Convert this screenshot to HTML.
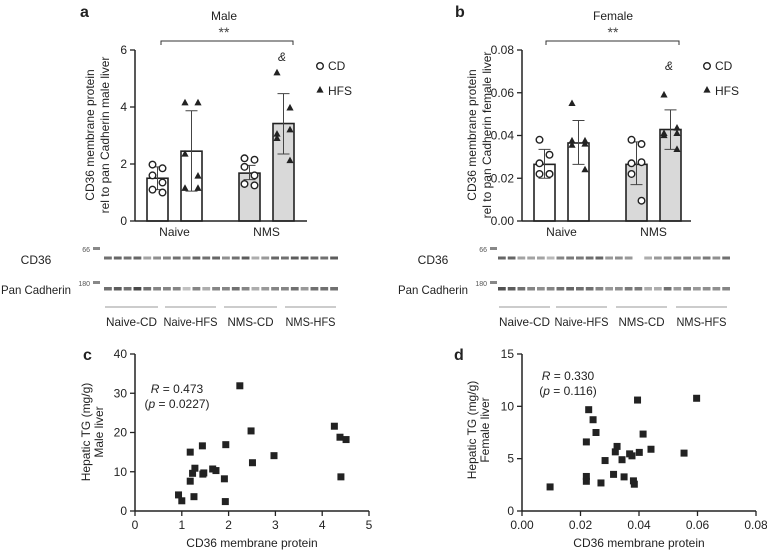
<!DOCTYPE html>
<html><head><meta charset="utf-8"><style>
body{margin:0;background:#fff;width:767px;height:553px;overflow:hidden}
svg{font-family:"Liberation Sans",Arial,sans-serif;fill:#222}
</style></head><body>
<svg id="fig" width="767" height="553" viewBox="0 0 767 553" xmlns="http://www.w3.org/2000/svg"></svg>
<script>
const NS='http://www.w3.org/2000/svg';
const svg=document.getElementById('fig');
// ---- data panel a (male)
const groupsAB=['Naive','NMS'];
const maleMeans=[1.5,2.45,1.68,3.42];
const maleErrLo=[1.1,1.05,1.45,2.35];
const maleErrHi=[1.9,3.87,1.95,4.47];
const malePtsNaiveCD=[1.98,1.85,1.6,1.35,1.1,1.0];
const malePtsNaiveHFS=[4.15,4.15,2.35,1.58,1.15,1.15];
const malePtsNmsCD=[2.2,2.15,1.9,1.6,1.3,1.25];
const malePtsNmsHFS=[5.2,3.97,3.05,3.2,2.9,2.12];
const maleTicks=[0,2,4,6];
// ---- data panel b (female)
const femMeans=[0.0265,0.0365,0.0265,0.0428];
const femErrLo=[0.02,0.0265,0.017,0.0335];
const femErrHi=[0.0335,0.047,0.037,0.052];
const femPtsNaiveCD=[0.038,0.031,0.027,0.022,0.022,0.022];
const femPtsNaiveHFS=[0.055,0.0375,0.0375,0.036,0.0355,0.024];
const femPtsNmsCD=[0.038,0.036,0.027,0.0275,0.022,0.0095];
const femPtsNmsHFS=[0.059,0.0435,0.041,0.041,0.04,0.0335];
const femTicks=['0.00','0.02','0.04','0.06','0.08'];
// ---- data panel c
const cX=[0.93,1.0,1.18,1.18,1.23,1.28,1.26,1.44,1.45,1.47,1.66,1.73,1.91,1.94,1.93,2.24,2.48,2.51,2.97,4.26,4.38,4.51,4.40];
const cY=[4.1,2.6,15.0,7.6,9.6,10.9,3.65,16.6,9.4,9.7,10.7,10.3,8.2,16.9,2.4,31.9,20.4,12.3,14.1,21.6,18.8,18.2,8.7];
const cXTicks=[0,1,2,3,4,5];
const cYTicks=[0,10,20,30,40];
// ---- data panel d
const dX=[0.0096,0.0228,0.0243,0.0253,0.022,0.022,0.022,0.027,0.0284,0.0313,0.0319,0.0325,0.0342,0.0349,0.0368,0.0376,0.0381,0.0384,0.0395,0.0401,0.0414,0.0441,0.0554,0.0597];
const dY=[2.3,9.68,8.72,7.5,6.6,3.3,2.84,2.68,4.82,3.5,5.65,6.17,4.9,3.26,5.46,5.27,2.88,2.56,10.6,5.6,7.35,5.9,5.53,10.77];
const dXTicks=['0.00','0.02','0.04','0.06','0.08'];
const dYTicks=[0,5,10,15];
// blot band intensities (0..1)
const blotLeftCD36=[.7,.75,.7,.75,.45,.55,.6,.7,.6,.75,.7,.75,.55,.7,.8,.4,.5,.75,.7,.8,.8,.75,.7,.8];
const blotLeftPan=[.7,.8,.7,.9,.7,.6,.6,.6,.3,.6,.4,.6,.6,.7,.6,.4,.5,.6,.6,.7,.5,.7,.7,.7];
const blotRightCD36=[.75,.75,.45,.45,.45,.35,.6,.65,.65,.7,.75,.5,.55,.5,0,.4,.5,.55,.6,.6,.55,.65,.55,.7];
const blotRightPan=[.85,.8,.7,.6,.55,.6,.7,.75,.7,.7,.6,.5,.55,.65,.65,.4,.4,.7,.5,.6,.5,.55,.55,.6];

function el(tag,attrs,parent){const e=document.createElementNS(NS,tag);for(const k in attrs)e.setAttribute(k,attrs[k]);(parent||svg).appendChild(e);return e;}
function txt(x,y,s,attrs,parent){const t=el('text',Object.assign({x:x,y:y,'font-size':12},attrs||{}),parent);t.textContent=s;return t;}

function tri(g,x,y){el('path',{d:`M${x},${y-4} L${x+3.6},${y+2.6} L${x-3.6},${y+2.6} Z`,fill:'#222'},g);}
function circ(g,x,y){el('circle',{cx:x,cy:y,r:3.3,fill:'#fff',stroke:'#222','stroke-width':1.4},g);}

function barPanel(o){
  const g=el('g',{});
  
  
  const ys=v=>o.y0-(v/o.ymax)*(o.y0-o.ytop);
  txt(o.letterX,17,o.letter,{'font-size':16,'font-weight':'bold',},g);
  txt(o.titleX,20,o.title,{'font-size':12,'text-anchor':'middle',},g);
  txt(o.titleX,37,'**',{'font-size':14,'text-anchor':'middle',fill:'#444',},g);
  el('path',{d:`M${o.brk[0]},45 V41 H${o.brk[1]} V45`,fill:'none',stroke:'#333','stroke-width':1,},g);
  const fills=['#fff','#fff','#d9d9d9','#d9d9d9'];
  const names=['bar-naive-cd','bar-naive-hfs','bar-nms-cd','bar-nms-hfs'];
  for(let i=0;i<4;i++){
    const x=o.barX[i],w=21,top=ys(o.means[i]);
    const r=el('rect',{x:x,y:top,width:w,height:o.y0-top,fill:fills[i],stroke:'#222','stroke-width':1.6},g);
    
    
    const cx=x+w/2;
    el('path',{d:`M${cx},${ys(o.lo[i])} V${ys(o.hi[i])} M${cx-6},${ys(o.lo[i])} H${cx+6} M${cx-6},${ys(o.hi[i])} H${cx+6}`,stroke:'#444','stroke-width':1,fill:'none'},g);
    const pts=o.pts[i];
    const offs=[-5,5,-5,5,-5,5];
    pts.forEach((v,j)=>{const px=cx+offs[j]*(i%2?1.3:1);const py=ys(v);
      if(i%2) tri(g,px,py); else circ(g,px,py);});
  }
  el('line',{x1:o.ax,y1:o.ytop,x2:o.ax,y2:o.y0,stroke:'#222','stroke-width':1.5},g);
  el('line',{x1:o.ax,y1:o.y0,x2:o.axEnd,y2:o.y0,stroke:'#222','stroke-width':1.5},g);
  o.ticks.forEach(t=>{const y=ys(parseFloat(t));
    el('line',{x1:o.ax-5,y1:y,x2:o.ax,y2:y,stroke:'#222','stroke-width':1.3},g);
    txt(o.ax-8,y+4,String(t),{'font-size':12,'text-anchor':'end'},g);});
  txt((o.barX[0]+o.barX[1]+21)/2,236,groupsAB[0],{'text-anchor':'middle','font-size':12,},g);
  txt((o.barX[2]+o.barX[3]+21)/2,236,groupsAB[1],{'text-anchor':'middle','font-size':12,},g);
  const yt=el('text',{transform:`translate(${o.ytX},135) rotate(-90)`,'font-size':12,'text-anchor':'middle',},g);
  const t1=el('tspan',{x:0,dy:0},yt);t1.textContent='CD36 membrane protein';
  const t2=el('tspan',{x:0,dy:15},yt);t2.textContent=o.ytitle2;
  txt(o.ampX,o.ampY,'&',{'font-style':'italic','font-size':12,'text-anchor':'middle',},g);
  const lg=el('g',{},g);
  circ(lg,o.legX,66);txt(o.legX+8,70,'CD',{'font-size':12},lg);
  tri(lg,o.legX,90);txt(o.legX+8,95,'HFS',{'font-size':12},lg);
}
barPanel({name:'panel-a-male-bar-chart',letter:'a',letterX:80,title:'Male',titleX:224,brk:[161,293],
  y0:221,ytop:50,ymax:6,ax:135,axEnd:307,barX:[147,181,239,273],means:maleMeans,lo:maleErrLo,hi:maleErrHi,
  pts:[malePtsNaiveCD,malePtsNaiveHFS,malePtsNmsCD,malePtsNmsHFS],ticks:maleTicks,ytX:94,ytitle2:'rel to pan Cadherin male liver',
  ampX:282,ampY:61,legX:320});
barPanel({name:'panel-b-female-bar-chart',letter:'b',letterX:455,title:'Female',titleX:613,brk:[546,679],
  y0:221,ytop:50,ymax:0.08,ax:522,axEnd:691,barX:[534,568,626,660],means:femMeans,lo:femErrLo,hi:femErrHi,
  pts:[femPtsNaiveCD,femPtsNaiveHFS,femPtsNmsCD,femPtsNmsHFS],ticks:femTicks,ytX:476,ytitle2:'rel to pan Cadherin female liver',
  ampX:669,ampY:70,legX:707});

function blot(o){
  const g=el('g',{});
  
  
  txt(o.cdX,264,'CD36',{'font-size':12,'text-anchor':'middle'},g);
  txt(o.panX,294,'Pan Cadherin',{'font-size':12,'text-anchor':'middle',textLength:70,lengthAdjust:'spacingAndGlyphs'},g);
  txt(o.ladX-3,252,'66',{'font-size':7,'text-anchor':'end',fill:'#555'},g);
  txt(o.ladX-3,286,'180',{'font-size':7,'text-anchor':'end',fill:'#555'},g);
  el('rect',{x:o.ladX,y:247,width:7,height:3,fill:'#888'},g);
  el('rect',{x:o.ladX,y:281,width:7,height:3,fill:'#888'},g);
  const lw=(o.x1-o.x0)/24;
  for(let i=0;i<24;i++){
    const a=o.cd[i],b=o.pan[i];
    if(a>0)el('rect',{x:o.x0+i*lw+1,y:256.5,width:lw-2,height:3,fill:'#333','fill-opacity':a},g);
    el('rect',{x:o.x0+i*lw+1,y:287,width:lw-2,height:3.5,fill:'#333','fill-opacity':b},g);
  }
  const labs=['Naive-CD','Naive-HFS','NMS-CD','NMS-HFS'];
  const labW=[51,54,46,50];
  o.segs.forEach((s,i)=>{el('line',{x1:s[0],y1:307,x2:s[1],y2:307,stroke:'#999','stroke-width':1},g);
    txt((s[0]+s[1])/2,326,labs[i],{'font-size':12,'text-anchor':'middle',textLength:labW[i],lengthAdjust:'spacingAndGlyphs'},g);});
}
blot({name:'western-blot-male',cdX:36,panX:36,ladX:93,x0:103,x1:339,cd:blotLeftCD36,pan:blotLeftPan,segs:[[105,158],[165,216],[224,277],[285,336]]});
blot({name:'western-blot-female',cdX:433,panX:433,ladX:490,x0:497,x1:731,cd:blotRightCD36,pan:blotRightPan,segs:[[499,550],[556,607],[616,667],[676,727]]});

function scatter(o){
  const g=el('g',{});
  
  
  const xs=v=>o.ax+(v/o.xmax)*(o.axEnd-o.ax);
  const ys=v=>o.y0-(v/o.ymax)*(o.y0-o.ytop);
  txt(o.letterX,360,o.letter,{'font-size':16,'font-weight':'bold'},g);
  el('line',{x1:o.ax,y1:o.ytop,x2:o.ax,y2:o.y0,stroke:'#222','stroke-width':1.5},g);
  el('line',{x1:o.ax,y1:o.y0,x2:o.axEnd,y2:o.y0,stroke:'#222','stroke-width':1.5},g);
  o.yt.forEach(t=>{const y=ys(t);el('line',{x1:o.ax-5,y1:y,x2:o.ax,y2:y,stroke:'#222','stroke-width':1.3},g);
    txt(o.ax-8,y+4,String(t),{'font-size':12,'text-anchor':'end'},g);});
  o.xt.forEach(t=>{const x=xs(parseFloat(t));el('line',{x1:x,y1:o.y0,x2:x,y2:o.y0+5,stroke:'#222','stroke-width':1.3},g);
    txt(x,o.y0+18,String(t),{'font-size':12,'text-anchor':'middle'},g);});
  o.X.forEach((v,i)=>{const r=el('rect',{x:xs(v)-3.5,y:ys(o.Y[i])-3.5,width:7,height:7,fill:'#222'},g);
    
    });
  txt((o.ax+o.axEnd)/2,o.y0+36,'CD36 membrane protein',{'font-size':12,'text-anchor':'middle',},g);
  const yt=el('text',{transform:`translate(${o.ytX},${o.ytY}) rotate(-90)`,'font-size':12,'text-anchor':'middle',},g);
  const t1=el('tspan',{x:0,dy:0},yt);t1.textContent='Hepatic TG (mg/g)';
  const t2=el('tspan',{x:0,dy:13},yt);t2.textContent=o.yt2;
  const r=el('text',{x:o.rX,y:o.rY,'font-size':12,'text-anchor':'middle',},g);
  r.innerHTML='<tspan font-style="italic">R</tspan> = '+o.r;
  const p=el('text',{x:o.rX,y:o.rY+15,'font-size':12,'text-anchor':'middle',},g);
  p.innerHTML='(<tspan font-style="italic">p</tspan> = '+o.p+')';
}
scatter({name:'panel-c-male-scatter',letter:'c',letterX:83,ax:135,axEnd:369,xmax:5,y0:511,ytop:354,ymax:40,X:cX,Y:cY,xt:cXTicks,yt:cYTicks,
  ytX:90,ytY:432,yt2:'Male liver',rX:177,rY:393,r:'0.473',p:'0.0227'});
scatter({name:'panel-d-female-scatter',letter:'d',letterX:454,ax:522,axEnd:756,xmax:0.08,y0:511,ytop:354,ymax:15,X:dX,Y:dY,xt:dXTicks,yt:dYTicks,
  ytX:476,ytY:430,yt2:'Female liver',rX:568,rY:380,r:'0.330',p:'0.116'});
</script>
</body></html>
